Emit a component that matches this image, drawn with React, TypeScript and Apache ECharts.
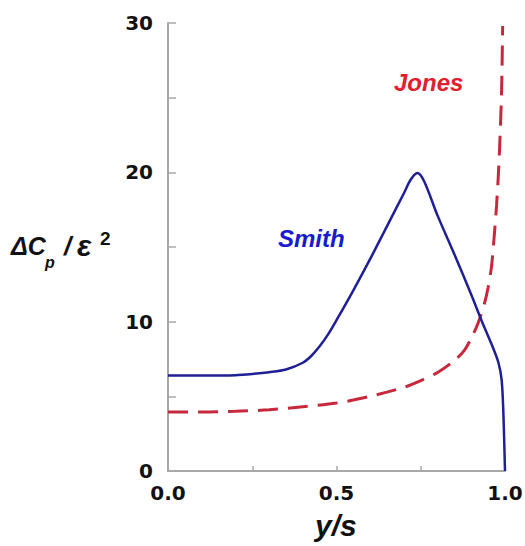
import React, { useEffect, useRef } from "react";
import * as echarts from "echarts";

const smithX = [0, 0.1, 0.2, 0.25, 0.3, 0.35, 0.4, 0.425, 0.45, 0.475, 0.5, 0.55, 0.6, 0.65, 0.7, 0.72, 0.74, 0.76, 0.8, 0.85, 0.9, 0.93, 0.96, 0.98, 0.99, 0.995, 1.0];
const smithY = [6.4, 6.4, 6.42, 6.5, 6.62, 6.8, 7.25, 7.7, 8.35, 9.15, 10.1, 12.1, 14.2, 16.4, 18.6, 19.5, 19.95, 19.4, 17.1, 14.5, 11.8, 10.1, 8.5, 7.3, 6.1, 4.0, 0];

const jonesX = [0, 0.1, 0.2, 0.3, 0.4, 0.5, 0.6, 0.7, 0.75, 0.8, 0.85, 0.88, 0.9, 0.92, 0.94, 0.95, 0.96, 0.97, 0.975, 0.98, 0.985, 0.99, 0.993];
const jonesY = [3.95, 3.95, 4.0, 4.1, 4.3, 4.55, 5.0, 5.6, 6.05, 6.6, 7.4, 8.1, 8.9, 9.9, 11.3, 12.3, 13.7, 16.3, 17.8, 19.7, 22.2, 25.6, 29.8];

const xTicks = [0, 0.5, 1.0];
const yTicks = [0, 10, 20, 30];

const labelFont = "'DejaVu Sans', Verdana, sans-serif";
const italicFont = "'Liberation Sans', Arial, sans-serif";

export default function App() {
  const ref = useRef<HTMLDivElement>(null);
  useEffect(() => {
    document.body.style.margin = "0";
    const chart = echarts.init(ref.current!, null, { renderer: "svg" });
    const isTick = (arr: number[], v: number) => arr.some((t) => Math.abs(t - v) < 1e-6);
    chart.setOption({
      animation: false,
      backgroundColor: "#ffffff",
      grid: { left: 168, right: 20, top: 23, bottom: 75, outerBoundsMode: "none", containLabel: false },
      xAxis: {
        type: "value",
        min: 0,
        max: 1,
        interval: 0.25,
        axisLine: { show: true, lineStyle: { color: "#a8a8a8", width: 2 } },
        axisTick: { show: true, inside: true, length: 5, lineStyle: { color: "#a8a8a8", width: 1.5 } },
        splitLine: { show: false },
        axisLabel: {
          margin: 12,
          color: "#111",
          fontFamily: labelFont,
          fontWeight: "bold",
          fontSize: 20,
          formatter: (v: number) => (isTick(xTicks, v) ? v.toFixed(1) : ""),
        },
      },
      yAxis: {
        type: "value",
        min: 0,
        max: 30,
        interval: 5,
        axisLine: { show: true, lineStyle: { color: "#a8a8a8", width: 2 } },
        axisTick: { show: true, inside: true, length: 8, lineStyle: { color: "#a8a8a8", width: 1.5 } },
        splitLine: { show: false },
        axisLabel: {
          margin: 15,
          color: "#111",
          fontFamily: labelFont,
          fontWeight: "bold",
          fontSize: 20,
          formatter: (v: number) => (isTick(yTicks, v) ? String(v) : ""),
        },
      },
      series: [
        {
          name: "Smith",
          type: "line",
          data: smithX.map((x, i) => [x, smithY[i]]),
          showSymbol: false,
          smooth: 0.3,
          lineStyle: { color: "#1f1f96", width: 2.5 },
          z: 3,
        },
        {
          name: "Jones",
          type: "line",
          data: jonesX.map((x, i) => [x, jonesY[i]]),
          showSymbol: false,
          smooth: 0.3,
          lineStyle: { color: "#c8283c", width: 3, type: [20, 10] },
          z: 2,
        },
      ],
      graphic: [
        { type: "text", left: 278, top: 226, style: { text: "Smith", fill: "#1a1acc", font: `italic bold 24px ${italicFont}` } },
        { type: "text", left: 394, top: 70, style: { text: "Jones", fill: "#e0202e", font: `italic bold 24px ${italicFont}` } },
        { type: "text", left: 315, top: 510, style: { text: "y/s", fill: "#111", font: `italic bold 30px ${italicFont}` } },
        { type: "text", left: 11, top: 233, style: { text: "ΔC", fill: "#111", font: `italic bold 25px ${italicFont}` } },
        { type: "text", left: 45, top: 254, style: { text: "p", fill: "#111", font: `italic bold 16px ${italicFont}` } },
        { type: "text", left: 64, top: 233, style: { text: "/", fill: "#111", font: `italic bold 26px ${italicFont}` } },
        { type: "text", left: 77, top: 230, style: { text: "ε", fill: "#111", font: `italic bold 30px ${italicFont}` } },
        { type: "text", left: 100, top: 229, style: { text: "2", fill: "#111", font: `bold 19px ${italicFont}` } },
      ],
    });
    return () => chart.dispose();
  }, []);
  return <div ref={ref} style={{ position: "absolute", left: 0, top: 0, width: 525, height: 546 }} />;
}
